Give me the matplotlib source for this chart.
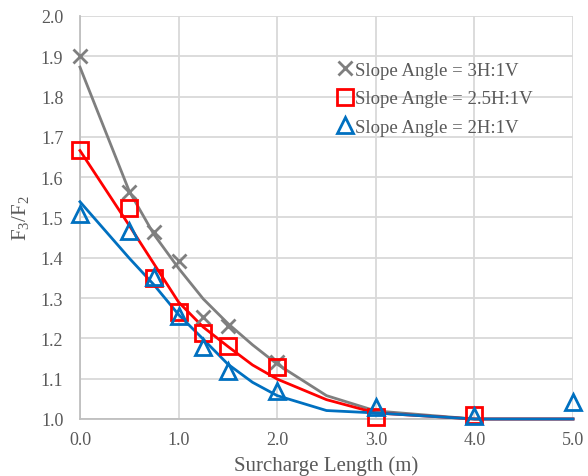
import matplotlib
matplotlib.use("Agg")
import matplotlib.pyplot as plt

plt.rcParams["font.family"] = ["Liberation Serif", "DejaVu Serif"]
plt.rcParams["mathtext.default"] = "regular"
plt.rcParams["font.size"] = 12.5

# measured F3/F2 ratios
x_3h = [0.0, 0.5, 0.75, 1.0, 1.25, 1.5, 2.0]
y_3h = [1.900, 1.563, 1.463, 1.393, 1.252, 1.230, 1.141]

x_25h = [0.0, 0.5, 0.75, 1.0, 1.25, 1.5, 2.0, 3.0, 4.0]
y_25h = [1.668, 1.523, 1.350, 1.265, 1.213, 1.180, 1.130, 1.004, 1.010]

x_2h = [0.0, 0.5, 0.75, 1.0, 1.25, 1.5, 2.0, 3.0, 4.0, 5.0]
y_2h = [1.509, 1.467, 1.353, 1.255, 1.178, 1.120, 1.070, 1.029, 1.008, 1.041]

# fitted curves
x_fit = [0.0, 0.5, 0.75, 1.0, 1.25, 1.5, 1.75, 2.0, 2.5, 3.0, 4.0, 5.0]
fit_3h = [1.873, 1.565, 1.458, 1.374, 1.298, 1.237, 1.184, 1.136, 1.058, 1.020, 1.000, 1.000]
fit_25h = [1.666, 1.480, 1.385, 1.290, 1.228, 1.180, 1.134, 1.099, 1.048, 1.015, 1.000, 1.000]
fit_2h = [1.539, 1.399, 1.333, 1.259, 1.198, 1.136, 1.091, 1.058, 1.021, 1.015, 1.000, 1.000]

labels = ["Slope Angle = 3H:1V", "Slope Angle = 2.5H:1V", "Slope Angle = 2H:1V"]
gray, red, blue = "#7f7f7f", "#ff0000", "#0070c0"

fig = plt.figure(figsize=(5.88, 4.77), dpi=100)
ax = fig.add_axes([0.136, 0.1195, 0.8385, 0.845])

ax.plot(x_fit, fit_3h, color=gray, lw=2, zorder=3, clip_on=False)
ax.plot(x_fit, fit_25h, color=red, lw=2, zorder=3, clip_on=False)
ax.plot(x_fit, fit_2h, color=blue, lw=2, zorder=3, clip_on=False)

ax.plot(x_3h, y_3h, ls="none", marker="x", ms=10, mew=2, color=gray,
        label=labels[0], zorder=4, clip_on=False)
ax.plot(x_25h, y_25h, ls="none", marker="s", ms=11, mew=2, mec=red, mfc="none",
        label=labels[1], zorder=4, clip_on=False)
ax.plot(x_2h, y_2h, ls="none", marker="^", ms=11, mew=2, mec=blue, mfc="none",
        label=labels[2], zorder=4, clip_on=False)

ax.set_xlim(0, 5)
ax.set_ylim(1.0, 2.0)
ax.set_xticks([0, 1, 2, 3, 4, 5])
ax.set_yticks([1.0 + 0.1 * i for i in range(11)])
ax.xaxis.set_major_formatter(matplotlib.ticker.FormatStrFormatter("%.1f"))
ax.yaxis.set_major_formatter(matplotlib.ticker.FormatStrFormatter("%.1f"))
ax.tick_params(length=0, colors="#595959", labelsize=13, pad=9)
ax.tick_params(axis="y", pad=12)

ax.grid(True, color="#d9d9d9", lw=1.3, zorder=0)
ax.set_axisbelow(True)
for s in ["top", "right"]:
    ax.spines[s].set_visible(False)
for s in ["left", "bottom"]:
    ax.spines[s].set_color("#bfbfbf")
    ax.spines[s].set_linewidth(1.3)

ax.set_xlabel("Surcharge Length (m)", color="#595959", fontsize=15, labelpad=5)
ax.set_ylabel("F$_3$/F$_2$", color="#595959", fontsize=15, labelpad=7)

leg = ax.legend(loc="upper left", bbox_to_anchor=(0.508, 0.905), frameon=False,
                handlelength=0.8, handletextpad=0.1, labelspacing=0.6,
                fontsize=13.5, borderaxespad=0)
for t in leg.get_texts():
    t.set_color("#595959")

fig.savefig("out.png", dpi=100)
